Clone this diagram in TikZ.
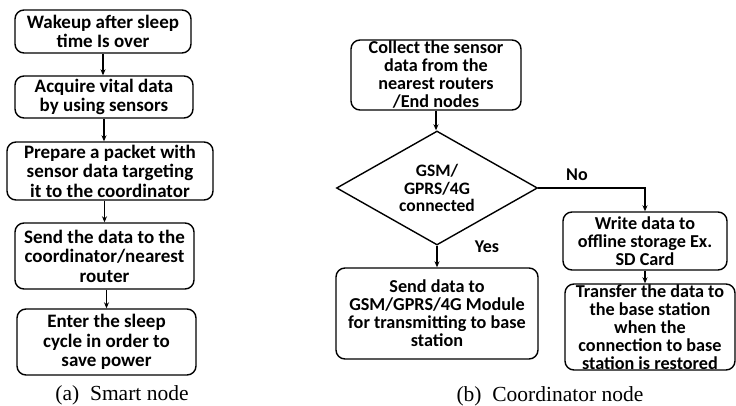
\documentclass[tikz,border=0pt]{standalone}
\usepackage{fontspec}
\setmainfont{Liberation Serif}
\newfontfamily\boxfont{Carlito}
\usetikzlibrary{shapes.geometric,arrows.meta}
\begin{document}
\begin{tikzpicture}[x=1pt,y=-1pt,
  box/.style={draw,line width=1.4pt,rounded corners=9pt,align=center,inner sep=0pt,
    font=\boxfont\bfseries\fontsize{19}{19.5}\selectfont},
  rbox/.style={box,font=\boxfont\bfseries\fontsize{18.2}{18}\selectfont},
  dec/.style={draw,line width=1.4pt,diamond,aspect=2,inner sep=0pt,align=center,
    font=\boxfont\bfseries\fontsize{17.5}{17.5}\selectfont},
  lbl/.style={font=\boxfont\bfseries\fontsize{18}{18}\selectfont},
  captxt/.style={font=\fontsize{21.5}{24}\selectfont},
  arr/.style={line width=1.2pt,-{Stealth[length=6pt,width=5pt]}}]
\useasboundingbox (0,0) rectangle (736,406);
% left column
\node[box,minimum width=176pt,minimum height=43pt] (b1) at (103,31.5) {Wakeup after sleep\\time Is over};
\node[box,minimum width=178pt,minimum height=42pt] (b2) at (104,97) {Acquire vital data\\by using sensors};
\node[box,minimum width=206pt,minimum height=58pt] (b3) at (110,171) {Prepare a packet with\\sensor data targeting\\it to the coordinator};
\node[box,minimum width=179pt,minimum height=66pt] (b4) at (104.5,256) {Send the data to the\\coordinator/nearest\\router};
\node[box,minimum width=179pt,minimum height=66pt] (b5) at (106.5,342) {Enter the sleep\\cycle in order to\\save power};
\draw[arr] (b1.south) -- (b1.south |- b2.north);
\draw[arr] (b2.south) -- (b2.south |- b3.north);
\draw[arr] (b4.north |- b3.south) -- (b4.north);
\draw[arr] (b5.north |- b4.south) -- (b5.north);
\node[captxt] (ca) at (122,395) {(a)~~Smart node};
% right part
\node[rbox,minimum width=170pt,minimum height=70pt] (c1) at (436,75) {Collect the sensor\\data from the\\nearest routers\\/End nodes};
\node[dec,minimum width=201pt,minimum height=114pt] (d) at (437,188) {GSM/\\GPRS/4G\\connected};
\node[rbox,minimum width=202pt,minimum height=91pt] (s) at (437,313.5) {Send data to\\GSM/GPRS/4G Module\\for transmitting to base\\station};
\node[rbox,minimum width=164pt,minimum height=58pt] (w) at (645,241) {Write data to\\offline storage Ex.\\SD Card};
\node[rbox,minimum width=170pt,minimum height=86pt] (t) at (650,327) {Transfer the data to\\the base station\\when the\\connection to base\\station is restored};
\draw[arr] (c1.south) -- (c1.south |- d.north);
\draw[arr] (d.south) -- (s.north);
\draw[arr] (d.east) -| (w.north);
\draw[arr] (w.south) -- (w.south |- t.north);
\node[lbl] (no) at (577,175) {No};
\node[lbl] (yes) at (487,247) {Yes};
\node[captxt] (cb) at (550,396) {(b)~~Coordinator node};
\end{tikzpicture}
\end{document}
